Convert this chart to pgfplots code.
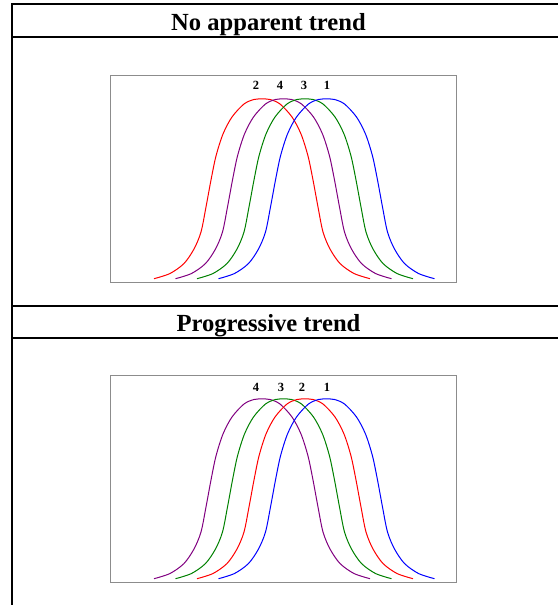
\documentclass[border=0pt]{standalone}
\usepackage{pgfplots}
\pgfplotsset{compat=1.18}
\usepackage{pgfplotstable}
\usepackage{fontspec}
\setmainfont{Liberation Serif}

% curve positions, in box pixels (x from box left, y from box bottom)
\pgfplotstableread{
x y
44 4.3
60 9.5
74 19.5
84 34
91 51
96 76
101 103
106 127
113 149
122 166
134 179
144 183.5
152 184
160 183.5
170 179
182 166
191 149
198 127
203 103
208 76
213 51
220 34
230 19.5
244 9.5
260 4.3
}\posA
\pgfplotstableread{
x y
65.5 4.3
81.5 9.5
95.5 19.5
105.5 34
112.5 51
117.5 76
122.5 103
127.5 127
134.5 149
143.5 166
155.5 179
165.5 183.5
173.5 184
181.5 183.5
191.5 179
203.5 166
212.5 149
219.5 127
224.5 103
229.5 76
234.5 51
241.5 34
251.5 19.5
265.5 9.5
281.5 4.3
}\posB
\pgfplotstableread{
x y
87 4.3
103 9.5
117 19.5
127 34
134 51
139 76
144 103
149 127
156 149
165 166
177 179
187 183.5
195 184
203 183.5
213 179
225 166
234 149
241 127
246 103
251 76
256 51
263 34
273 19.5
287 9.5
303 4.3
}\posC
\pgfplotstableread{
x y
108.5 4.3
124.5 9.5
138.5 19.5
148.5 34
155.5 51
160.5 76
165.5 103
170.5 127
177.5 149
186.5 166
198.5 179
208.5 183.5
216.5 184
224.5 183.5
234.5 179
246.5 166
255.5 149
262.5 127
267.5 103
272.5 76
277.5 51
284.5 34
294.5 19.5
308.5 9.5
324.5 4.3
}\posD

\definecolor{cpurple}{HTML}{800080}
\definecolor{cgreen}{HTML}{008000}
\definecolor{boxgray}{HTML}{8C8C8C}

\pgfplotsset{
  panel/.style={
    width=346pt, height=207pt, scale only axis,
    xmin=0, xmax=346, ymin=0, ymax=207,
    xtick=\empty, ytick=\empty,
    axis line style={draw=boxgray, line width=1pt},
    anchor=south west,
  },
  curve/.style={smooth, no markers, line width=1pt},
}
\tikzset{lbl/.style={font=\fontsize{12.5}{14}\selectfont\bfseries, anchor=base}}

\begin{document}
\begin{tikzpicture}[x=1pt, y=1pt]
\useasboundingbox (0,0) rectangle (558,605);

% table frame
\draw[line width=1.6pt] (12,601) -- (558,601);
\draw[line width=1.6pt] (12,568) -- (558,568);
\draw[line width=1.6pt] (12,299) -- (558,299);
\draw[line width=1.6pt] (12,267) -- (558,267);
\draw[line width=1.6pt] (12,601.8) -- (12,0);

\node[font=\fontsize{24.6}{28}\selectfont\bfseries, anchor=base] at (268.5,574.5) {No apparent trend};
\node[font=\fontsize{24.6}{28}\selectfont\bfseries, anchor=base] at (268.5,273) {Progressive trend};

% no apparent trend
\begin{axis}[panel, at={(110pt,322pt)}]
\addplot[curve, red] table {\posA};
\addplot[curve, cpurple] table {\posB};
\addplot[curve, cgreen] table {\posC};
\addplot[curve, blue] table {\posD};
\node[lbl] at (axis cs:146,193) {2};
\node[lbl] at (axis cs:170,193) {4};
\node[lbl] at (axis cs:194,193) {3};
\node[lbl] at (axis cs:217,193) {1};
\end{axis}

% progressive trend
\begin{axis}[panel, at={(110pt,22pt)}]
\addplot[curve, cpurple] table {\posA};
\addplot[curve, cgreen] table {\posB};
\addplot[curve, red] table {\posC};
\addplot[curve, blue] table {\posD};
\node[lbl] at (axis cs:146,191) {4};
\node[lbl] at (axis cs:171,191) {3};
\node[lbl] at (axis cs:192,191) {2};
\node[lbl] at (axis cs:217,191) {1};
\end{axis}
\end{tikzpicture}
\end{document}
